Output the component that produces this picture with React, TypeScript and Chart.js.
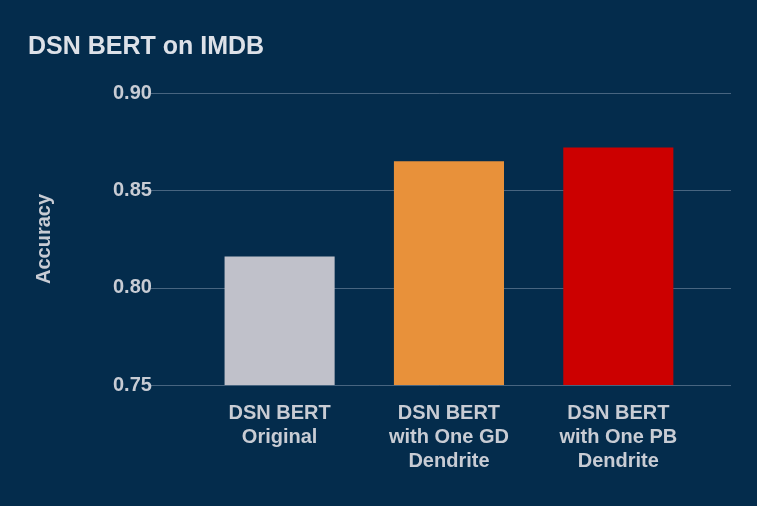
import React, { useEffect, useRef } from "react";
import { Chart, registerables } from "chart.js";
Chart.register(...registerables);

const categories = [["DSN BERT", "Original"], ["DSN BERT", "with One GD", "Dendrite"], ["DSN BERT", "with One PB", "Dendrite"]];
const accuracy = [0.816, 0.865, 0.872];
const barColors = ["#c0c1ca", "#e8913a", "#cc0000"];
const yTicks = [0.75, 0.8, 0.85, 0.9];

const gridPlugin = {
  id: "wideGrid",
  beforeDatasetsDraw(chart: any) {
    const { ctx, scales } = chart;
    const y = scales.y;
    ctx.save();
    ctx.strokeStyle = "rgba(200,210,225,0.35)";
    ctx.lineWidth = 1;
    yTicks.forEach((v) => {
      const py = Math.round(y.getPixelForValue(v)) + 0.5;
      ctx.beginPath();
      ctx.moveTo(148, py);
      ctx.lineTo(731, py);
      ctx.stroke();
    });
    ctx.restore();
  },
};

export default function App() {
  const ref = useRef<HTMLCanvasElement>(null);
  useEffect(() => {
    document.body.style.margin = "0";
    const font = { family: "Liberation Sans", size: 20, weight: "bold" as const };
    const chart = new Chart(ref.current!, {
      type: "bar",
      data: { labels: categories as any, datasets: [{ data: accuracy, backgroundColor: barColors, barPercentage: 0.65, categoryPercentage: 1 }] },
      plugins: [gridPlugin],
      options: {
        animation: false,
        responsive: false,
        layout: { padding: { left: 28, right: 54, top: 0, bottom: 25 } },
        plugins: {
          legend: { display: false },
          tooltip: { enabled: false },
          title: { display: true, text: "DSN BERT on IMDB", align: "start", color: "#dde1e8", font: { family: "Liberation Sans", size: 25, weight: "bold" }, padding: { top: 32, bottom: 31 } },
        },
        scales: {
          x: {
            grid: { display: false },
            border: { display: false },
            ticks: { color: "#c8ccd4", font, maxRotation: 0, padding: 8 },
          },
          y: {
            min: 0.75, max: 0.9,
            afterBuildTicks: (s: any) => { s.ticks = yTicks.map((v) => ({ value: v })); },
            grid: { display: false, drawTicks: false },
            border: { display: false },
            title: { display: true, text: "Accuracy", color: "#c8ccd4", font, padding: { bottom: 14 } },
            ticks: { color: "#c8ccd4", font, padding: 43, callback: (v: any) => Number(v).toFixed(2) },
          },
        },
      },
    });
    return () => chart.destroy();
  }, []);
  return (
    <div style={{ width: 757, height: 506, background: "#042c4c" }}>
      <canvas ref={ref} width={757} height={506} />
    </div>
  );
}
